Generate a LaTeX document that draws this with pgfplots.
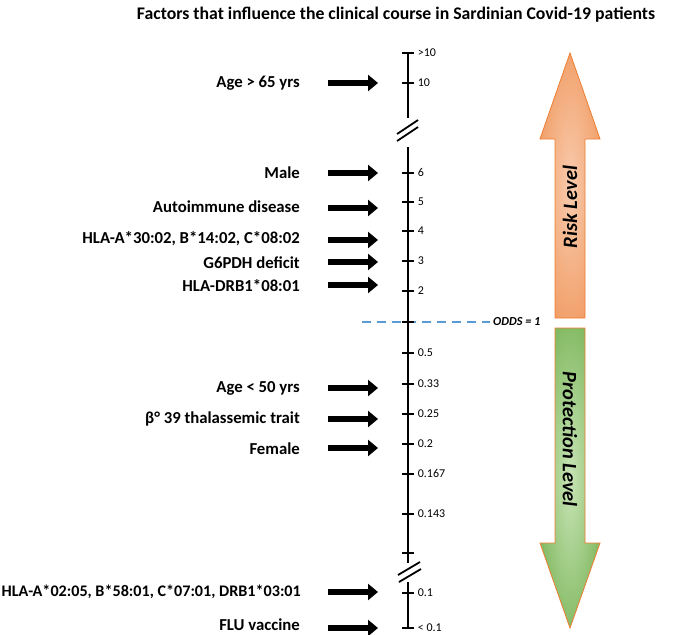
\documentclass[border=0pt]{standalone}
\usepackage{fontspec}
\setmainfont{Carlito}
\usepackage{pgfplots}
\pgfplotsset{compat=1.18}
\usetikzlibrary{arrows.meta}
\definecolor{oddsblue}{HTML}{5B9BD5}
\definecolor{orangeD}{HTML}{C55A11}
\definecolor{orangeM}{HTML}{EE8A48}
\definecolor{orangeL}{HTML}{F8CBAD}
\definecolor{orangeB}{HTML}{ED7D31}
\definecolor{greenD}{HTML}{35701B}
\definecolor{greenM}{HTML}{66A83F}
\definecolor{greenL}{HTML}{C8E4B6}
\pgfdeclareradialshading{orangeglow}{\pgfpoint{0bp}{0bp}}{color(0bp)=(orangeL); color(40bp)=(orangeM); color(71bp)=(orangeD)}
\pgfdeclareradialshading{greenglow}{\pgfpoint{0bp}{0bp}}{color(0bp)=(greenL); color(38bp)=(greenM); color(71bp)=(greenD)}
\begin{document}
\begin{tikzpicture}
\begin{axis}[scale only axis, width=692bp, height=635bp,
  xmin=0, xmax=692, ymin=0, ymax=635, y dir=reverse,
  hide axis, clip=false]
% title
\node[font=\bfseries\fontsize{17.8}{20}\selectfont] at (axis cs:396,15) {Factors that influence the clinical course in Sardinian Covid-19 patients};
% scale line segments
\addplot[black, line width=2bp] coordinates {(408,53) (408,118)};
\addplot[black, line width=2bp] coordinates {(408,147) (408,563)};
\addplot[black, line width=2bp] coordinates {(408,582) (408,628)};
% break slashes
\addplot[black, line width=1.8bp] coordinates {(397,134) (418,120)};
\addplot[black, line width=1.8bp] coordinates {(397,141) (418,127)};
\addplot[black, line width=1.8bp] coordinates {(398,575) (420,562)};
\addplot[black, line width=1.8bp] coordinates {(399,582) (421,569)};
% odds = 1 line
\addplot[oddsblue, line width=1.5bp, dash pattern=on 9bp off 6bp] coordinates {(362,322) (490,322)};
\node[anchor=west, inner sep=0, font=\bfseries\itshape\fontsize{12.3}{14}\selectfont] at (axis cs:493,322) {ODDS = 1};
% ticks with labels
\addplot[black, only marks, mark=-, mark size=6bp, mark options={line width=1.8bp},
  nodes near coords, point meta=explicit symbolic,
  nodes near coords style={anchor=west, inner sep=0, xshift=9bp, font=\fontsize{12}{14}\selectfont}]
  coordinates {(408,53) [>10] (408,83) [10] (408,173) [6] (408,202) [5] (408,231) [4]
  (408,261) [3] (408,291) [2] (408,353) [0.5] (408,384) [0.33] (408,414) [0.25]
  (408,444) [0.2] (408,474) [0.167] (408,514) [0.143] (408,593) [0.1] (408,628) [< 0.1]};
% ticks without labels
\addplot[black, only marks, mark=-, mark size=6bp, mark options={line width=1.8bp}]
  coordinates {(408,322) (408,553)};
% factor arrows
\addplot[black, line width=6.5bp, quiver={u=50, v=0}, -{Triangle[length=10bp, width=16bp]}]
  table {
x y
328 83
328 173
328 208
328 240
328 262
328 285
328 388
328 419
328 448
328 592
328 628
};
% factor labels
\begin{scope}[every node/.style={anchor=east, inner sep=0, font=\bfseries\fontsize{16.8}{19}\selectfont}]
\node at (axis cs:300,83) {Age > 65 yrs};
\node at (axis cs:300,173) {Male};
\node at (axis cs:300,207) {Autoimmune disease};
\node at (axis cs:300,239) {HLA-A*30:02, B*14:02, C*08:02};
\node at (axis cs:300,263) {G6PDH deficit};
\node at (axis cs:300,286) {HLA-DRB1*08:01};
\node at (axis cs:300,388) {Age < 50 yrs};
\node at (axis cs:300,419) {β° 39 thalassemic trait};
\node at (axis cs:300,449) {Female};
\node[font=\bfseries\fontsize{16.2}{19}\selectfont] at (axis cs:301,592) {HLA-A*02:05, B*58:01, C*07:01, DRB1*03:01};
\node at (axis cs:300,625) {FLU vaccine};
\end{scope}
% big arrows
\shade[shading=orangeglow, draw=orangeB, line width=0.8bp]
  (axis cs:555,318) -- (axis cs:555,139) -- (axis cs:540,139) -- (axis cs:570,53)
  -- (axis cs:600,139) -- (axis cs:585,139) -- (axis cs:585,318) -- cycle;
\shade[shading=greenglow, draw=orangeB, line width=0.8bp]
  (axis cs:555,328) -- (axis cs:585,328) -- (axis cs:585,543) -- (axis cs:600,543)
  -- (axis cs:570,628) -- (axis cs:540,543) -- (axis cs:555,543) -- cycle;
\node[rotate=90, font=\bfseries\itshape\fontsize{20.5}{22}\selectfont] at (axis cs:570,207) {Risk Level};
\node[rotate=-90, font=\bfseries\itshape\fontsize{20.5}{22}\selectfont] at (axis cs:570,439) {Protection Level};
\end{axis}
\pgfresetboundingbox
\path (current axis.south west) rectangle (current axis.north east);
\end{tikzpicture}
\end{document}
